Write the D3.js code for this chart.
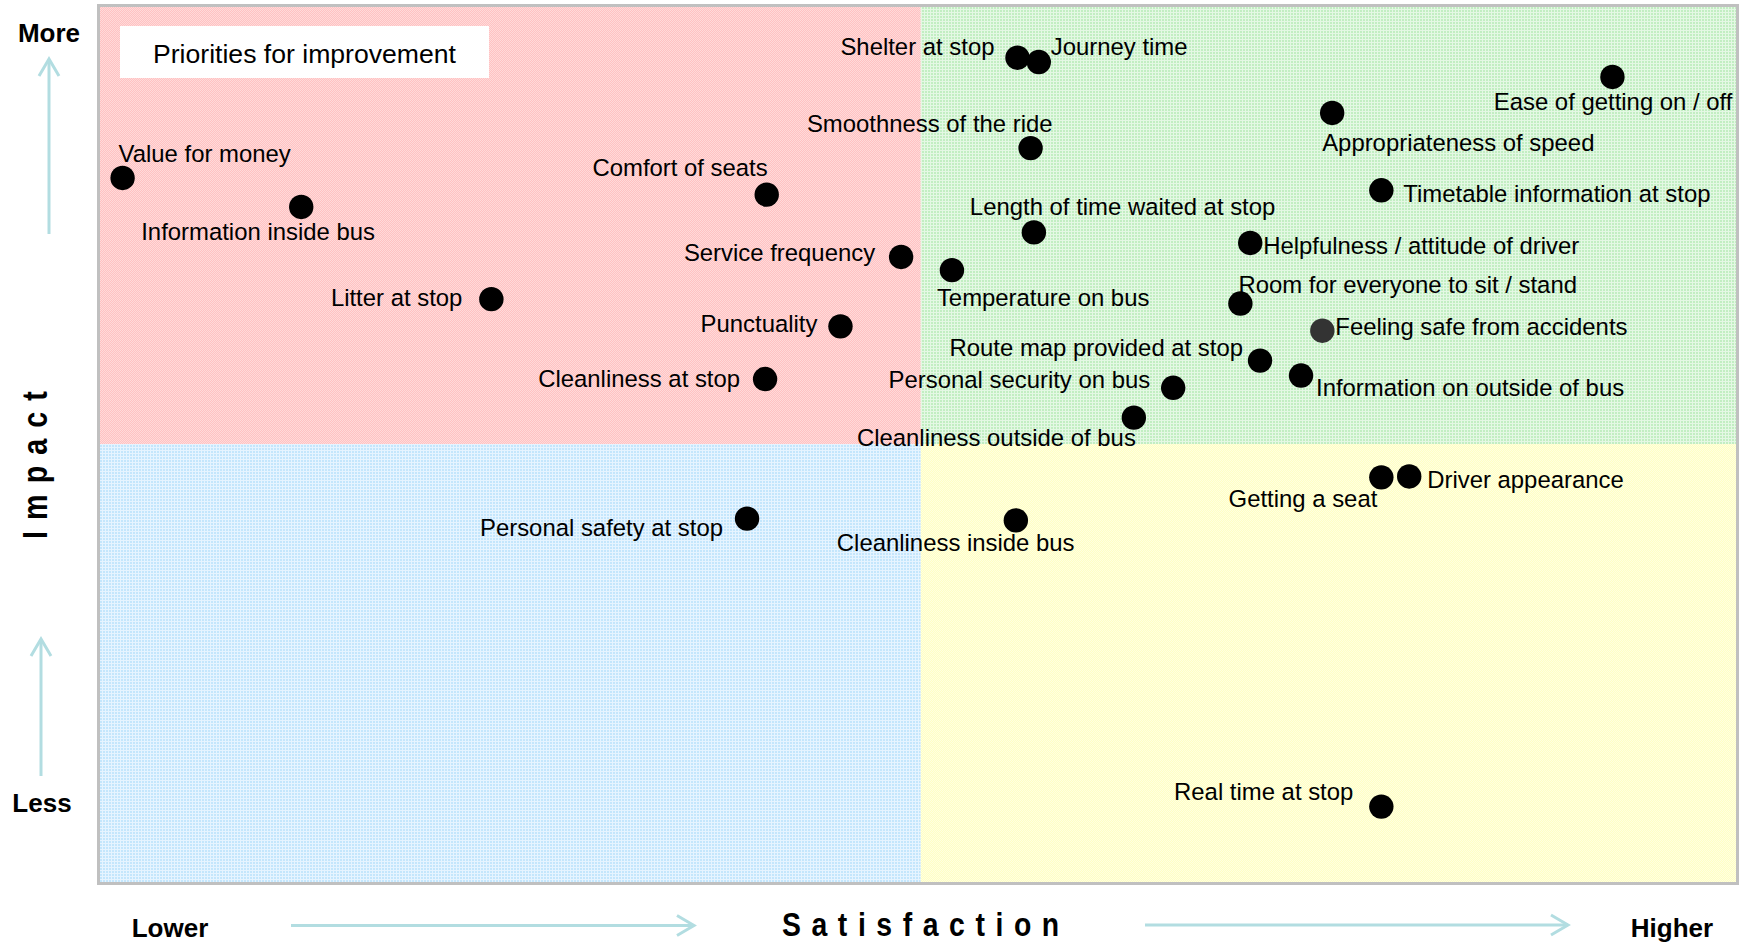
<!DOCTYPE html>
<html>
<head>
<meta charset="utf-8">
<script src="https://cdnjs.cloudflare.com/ajax/libs/d3/7.8.5/d3.min.js"></script>
<style>
    body { margin: 0; background: #ffffff; }
    svg text { font-family: "Liberation Sans", Arial, sans-serif; }
</style>
</head>
<body>
<svg id="chartSvg"></svg>
<script>
// quadrant chart: satisfaction vs impact

// data (values on 0-100 scales)
let items = [
    "Value for money", "Information inside bus", "Comfort of seats", "Service frequency",
    "Litter at stop", "Punctuality", "Cleanliness at stop", "Shelter at stop", "Journey time",
    "Smoothness of the ride", "Length of time waited at stop", "Helpfulness / attitude of driver",
    "Temperature on bus", "Ease of getting on / off", "Appropriateness of speed",
    "Timetable information at stop", "Room for everyone to sit / stand", "Feeling safe from accidents",
    "Route map provided at stop", "Information on outside of bus", "Personal security on bus",
    "Cleanliness outside of bus", "Getting a seat", "Driver appearance", "Personal safety at stop",
    "Cleanliness inside bus", "Real time at stop"
];
let satisfaction = [
    1.5, 12.4, 40.8, 49.0, 24.0, 45.3, 40.7, 56.1, 57.4, 56.9, 57.1, 70.3, 52.1, 92.4,
    75.3, 78.3, 69.7, 74.7, 70.9, 73.4, 65.6, 63.2, 78.3, 80.0, 39.6, 56.0, 78.3
];
let impact = [
    80.3, 77.0, 78.4, 71.3, 66.5, 63.4, 57.4, 94.0, 93.5, 83.7, 74.1, 72.9, 69.8, 91.8,
    87.7, 78.9, 66.0, 62.9, 59.5, 57.8, 56.4, 53.0, 46.2, 46.3, 41.5, 41.3, 8.7
];
let satisfactionSplit = 50.2;
let impactSplit = 50;
let quadrantTitle = "Priorities for improvement";

// label placement next to each dot: [anchor, dx, dy]
let labelLayout = [
    ["start", -4, -16], ["start", -160, 33], ["end", 1, -19], ["end", -26, 4],
    ["end", -29, 7], ["end", -23, 6], ["end", -25, 8], ["end", -23, -3], ["start", 12, -7],
    ["end", 22, -16], ["start", -64, -17], ["start", 13, 11], ["start", -15, 36],
    ["end", 120, 33], ["start", -10, 38], ["start", 22, 12], ["start", -2, -11],
    ["start", 13, 4], ["end", -17, -5], ["start", 15, 20], ["end", -23, 0],
    ["end", 2, 28], ["end", -4, 30], ["start", 18, 12], ["end", -24, 17],
    ["start", -179, 31], ["end", -28, -7]
];

let width = 1742;
let height = 944;
let plot = {left: 98, right: 1737, top: 5, bottom: 883};

let xScale = d3.scaleLinear().domain([0, 100]).range([plot.left, plot.right]);
let yScale = d3.scaleLinear().domain([0, 100]).range([plot.bottom, plot.top]);

let arrowColor = "#b2dde1";

function addPattern(defs, id, base, light, grid) {
    let p = defs.append("pattern")
        .attr("id", id)
        .attr("patternUnits", "userSpaceOnUse")
        .attr("width", grid ? 3 : 2)
        .attr("height", grid ? 3 : 2);
    p.append("rect").attr("width", 3).attr("height", 3).attr("fill", base);
    if (grid) {
        p.append("rect").attr("width", 3).attr("height", 1).attr("fill", light);
        p.append("rect").attr("width", 1).attr("height", 3).attr("fill", light);
    } else {
        p.append("rect").attr("width", 1).attr("height", 1).attr("fill", light);
        p.append("rect").attr("x", 1).attr("y", 1).attr("width", 1).attr("height", 1).attr("fill", light);
    }
}

function drawArrow(svg, x1, y1, x2, y2) {
    let ang = Math.atan2(y2 - y1, x2 - x1);
    let back = 17, side = 10;
    let bx = x2 - back * Math.cos(ang), by = y2 - back * Math.sin(ang);
    let px = -Math.sin(ang) * side, py = Math.cos(ang) * side;
    svg.append("line")
        .attr("x1", x1).attr("y1", y1).attr("x2", x2).attr("y2", y2)
        .attr("stroke", arrowColor).attr("stroke-width", 3);
    svg.append("polyline")
        .attr("points", [[bx + px, by + py], [x2, y2], [bx - px, by - py]].map(function (d) { return d.join(","); }).join(" "))
        .attr("fill", "none")
        .attr("stroke", arrowColor)
        .attr("stroke-width", 3);
}

function drawChart() {
    let svg = d3.select("#chartSvg")
        .attr("width", width)
        .attr("height", height);

    let defs = svg.append("defs");
    addPattern(defs, "patRed", "#ffc2c2", "#ffdada", false);
    addPattern(defs, "patGreen", "#c2eec2", "#e4f8e4", true);
    addPattern(defs, "patBlue", "#c4e6fc", "#e6f4ff", true);
    addPattern(defs, "patYellow", "#ffffc4", "#ffffe0", false);

    let xs = xScale(satisfactionSplit);
    let ys = yScale(impactSplit);

    let quads = [
        {x0: plot.left, x1: xs, y0: plot.top, y1: ys, fill: "url(#patRed)"},
        {x0: xs, x1: plot.right, y0: plot.top, y1: ys, fill: "url(#patGreen)"},
        {x0: plot.left, x1: xs, y0: ys, y1: plot.bottom, fill: "url(#patBlue)"},
        {x0: xs, x1: plot.right, y0: ys, y1: plot.bottom, fill: "url(#patYellow)"}
    ];

    svg.append("g")
        .selectAll("rect")
        .data(quads)
        .enter()
        .append("rect")
        .attr("x", function (d) { return d.x0; })
        .attr("y", function (d) { return d.y0; })
        .attr("width", function (d) { return d.x1 - d.x0; })
        .attr("height", function (d) { return d.y1 - d.y0; })
        .attr("fill", function (d) { return d.fill; });

    svg.append("rect")
        .attr("x", plot.left + 0.5)
        .attr("y", plot.top + 0.5)
        .attr("width", plot.right - plot.left)
        .attr("height", plot.bottom - plot.top)
        .attr("fill", "none")
        .attr("stroke", "#c0c0c0")
        .attr("stroke-width", 3);

    // title box in the priorities quadrant
    svg.append("rect")
        .attr("x", 120).attr("y", 26)
        .attr("width", 369).attr("height", 52)
        .attr("fill", "#ffffff");
    svg.append("text")
        .attr("x", 304.5).attr("y", 62.5)
        .attr("text-anchor", "middle")
        .attr("font-size", "26.6px")
        .attr("fill", "#000")
        .text(quadrantTitle);

    let points = items.map(function (name, i) {
        return {name: name, x: satisfaction[i], y: impact[i], layout: labelLayout[i]};
    });

    let g = svg.append("g");
    g.selectAll("circle")
        .data(points)
        .enter()
        .append("circle")
        .attr("cx", function (d) { return xScale(d.x); })
        .attr("cy", function (d) { return yScale(d.y); })
        .attr("r", 12.2)
        .attr("fill", function (d) { return d.name === "Feeling safe from accidents" ? "#333333" : "#000000"; });

    g.selectAll("text")
        .data(points)
        .enter()
        .append("text")
        .attr("x", function (d) { return xScale(d.x) + d.layout[1]; })
        .attr("y", function (d) { return yScale(d.y) + d.layout[2]; })
        .attr("text-anchor", function (d) { return d.layout[0]; })
        .attr("font-size", "23.9px")
        .attr("fill", "#000")
        .text(function (d) { return d.name; });

    // axis words
    let bold = [
        {t: "More", x: 49, y: 42, a: "middle"},
        {t: "Less", x: 42, y: 812, a: "middle"},
        {t: "Lower", x: 170, y: 937, a: "middle"},
        {t: "Higher", x: 1672, y: 937, a: "middle"}
    ];
    svg.append("g")
        .selectAll("text")
        .data(bold)
        .enter()
        .append("text")
        .attr("x", function (d) { return d.x; })
        .attr("y", function (d) { return d.y; })
        .attr("text-anchor", function (d) { return d.a; })
        .attr("font-size", "26px")
        .attr("font-weight", "bold")
        .text(function (d) { return d.t; });

    svg.append("text")
        .attr("transform", "translate(782,936) scale(0.86,1)")
        .attr("font-size", "33px")
        .attr("font-weight", "bold")
        .attr("letter-spacing", "12.3px")
        .text("Satisfaction");

    svg.append("text")
        .attr("transform", "translate(47,539) rotate(-90) scale(0.82,1)")
        .attr("font-size", "35px")
        .attr("font-weight", "bold")
        .attr("letter-spacing", "13.5px")
        .text("Impact");

    drawArrow(svg, 49, 234, 49, 59);
    drawArrow(svg, 41, 776, 41, 639);
    drawArrow(svg, 291, 925.5, 694, 925.5);
    drawArrow(svg, 1145, 925, 1568, 925);
}

drawChart();
</script>
</body>
</html>
